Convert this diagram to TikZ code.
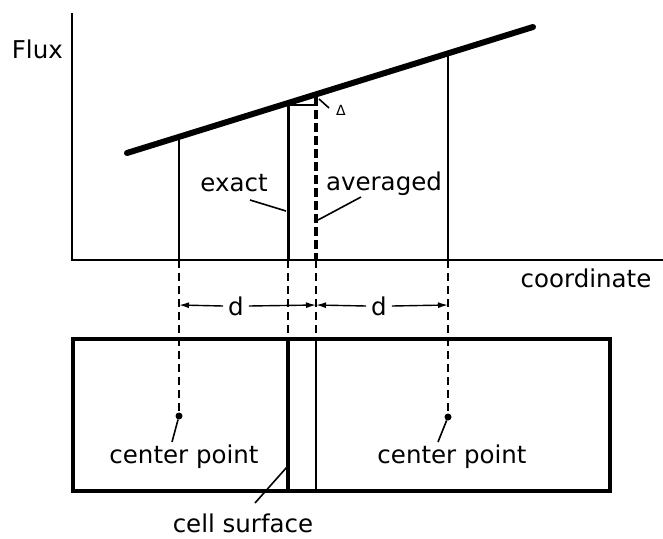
\documentclass[tikz,border=0pt]{standalone}
\usepackage{fontspec}
\setmainfont{DejaVu Sans}
\usetikzlibrary{arrows.meta}
\begin{document}
\begin{tikzpicture}[x=1pt,y=-1pt,
  lbl/.style={inner sep=0pt, font=\fontsize{24.5}{29}\selectfont},
  small/.style={inner sep=0pt, font=\fontsize{14}{16}\selectfont},
  axisline/.style={line width=1.5pt},
  fluxline/.style={line width=6pt, line cap=round},
  thinv/.style={line width=1.6pt},
  thickv/.style={line width=3pt},
  avgdash/.style={line width=3.2pt, dash pattern=on 9pt off 4pt},
  guide/.style={line width=1.8pt, dash pattern=on 8pt off 5pt},
  leader/.style={line width=1.6pt},
  cellbox/.style={line width=3.5pt},
  dim/.style={line width=1.4pt, -{Latex[length=10pt,width=6pt]}},
  dotstyle/.style={circle, fill=black, inner sep=0pt, minimum size=7pt}]
\useasboundingbox (0,0) rectangle (663,538);

% axes
\coordinate (O) at (72,260);
\coordinate (Ytop) at (72,13);
\coordinate (Xend) at (663,260);
\draw[axisline] (Ytop) -- (O) -- (Xend);
\node[lbl, anchor=base east] (flux) at (63,58) {Flux};
\node[lbl, anchor=base] (coord) at (586,287) {coordinate};

% flux line
\coordinate (F1) at (127,153);
\coordinate (F2) at (533,27);
\draw[fluxline] (F1) -- (F2);

% verticals above axis
\coordinate (Ltop) at (179,137);  \coordinate (Lax) at (179,260);
\coordinate (Etop) at (288,105);  \coordinate (Eax) at (288,260);
\coordinate (Atop) at (316,97);   \coordinate (Aax) at (316,260);
\coordinate (Rtop) at (448,53);   \coordinate (Rax) at (448,260);
\draw[thinv] (Ltop) -- (Lax);
\draw[thinv] (Rtop) -- (Rax);
\draw[thickv] (Etop) -- (Eax);
\draw[avgdash] (Atop) -- (Aax);

% delta
\coordinate (Dr) at (316,105);
\draw[line width=2pt] (Etop) -- (Dr);
\node[small] (delta) at (341,110) {Δ};
\coordinate (Dl1) at (319,99);
\coordinate (Dl2) at (329,108);
\draw[leader] (Dl1) -- (Dl2);

% exact / averaged labels
\node[lbl, anchor=base] (exact) at (234,191) {exact};
\node[lbl, anchor=base] (avg) at (384,190) {averaged};
\coordinate (ex1) at (250,200); \coordinate (ex2) at (286,211);
\coordinate (av1) at (361,197); \coordinate (av2) at (318,220);
\draw[leader] (ex1) -- (ex2);
\draw[leader] (av1) -- (av2);

% cell box
\coordinate (B1) at (73,339);
\coordinate (B2) at (610,491);
\draw[cellbox] (B1) rectangle (B2);
\coordinate (Ebt) at (288,339); \coordinate (Ebb) at (288,491);
\coordinate (Abt) at (316,339); \coordinate (Abb) at (316,491);
\draw[cellbox] (Ebt) -- (Ebb);
\draw[thinv] (Abt) -- (Abb);

% center points
\node[dotstyle] (cL) at (179,416) {};
\node[dotstyle] (cR) at (448,417) {};

% guides below axis
\draw[guide] (Lax) -- (cL.center);
\draw[guide] (Eax) -- (Ebt);
\draw[guide] (Aax) -- (Abt);
\draw[guide] (Rax) -- (cR.center);

% dimensions
\node[lbl] (d1) at (236,306) {d};
\node[lbl] (d2) at (379,306) {d};
\coordinate (dimL) at (179,305);
\coordinate (dimM) at (316,305);
\coordinate (dimR) at (448,305);
\draw[dim] (d1.west) ++(-5,0) coordinate (d1a) -- (dimL);
\draw[dim] (d1.east) ++(5,0) coordinate (d1b) -- (dimM);
\draw[dim] (d2.west) ++(-5,0) coordinate (d2a) -- (dimM);
\draw[dim] (d2.east) ++(5,0) coordinate (d2b) -- (dimR);

% center point labels
\node[lbl, anchor=base] (cpL) at (184,463) {center point};
\node[lbl, anchor=base] (cpR) at (452,463) {center point};
\coordinate (cl1) at (172,442); \coordinate (cr1) at (438,442);
\draw[leader] (cL) -- (cl1);
\draw[leader] (cR) -- (cr1);

% cell surface
\node[lbl, anchor=base] (cs) at (243,532) {cell surface};
\coordinate (cs1) at (255,503); \coordinate (cs2) at (287,467);
\draw[leader] (cs1) -- (cs2);
\end{tikzpicture}
\end{document}
